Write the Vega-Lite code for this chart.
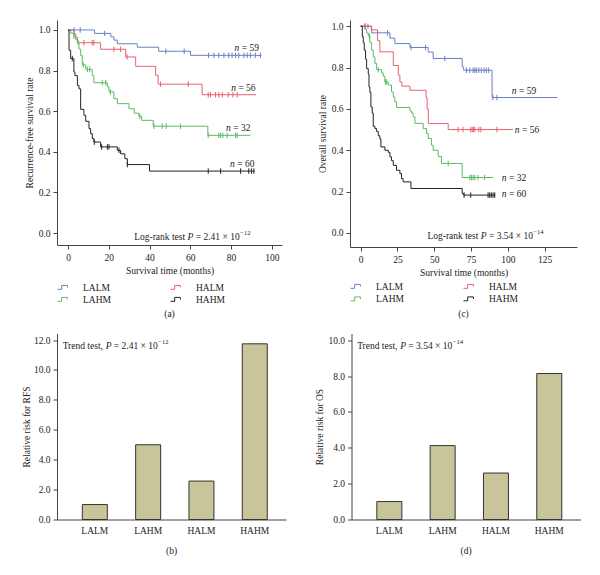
{
  "$schema": "https://vega.github.io/schema/vega-lite/v6.json",
  "padding": {"left": 21, "top": 20, "right": 5, "bottom": 5},
  "config": {
    "font": "Liberation Serif",
    "view": {"stroke": null},
    "axis": {"labelFontSize": 9.5, "titleFontSize": 9.5, "titleFontWeight": "normal", "domainColor": "#444", "tickColor": "#444", "labelColor": "#222", "titleColor": "#222", "grid": false, "tickSize": 4, "labelPadding": 3, "titlePadding": 4, "labelOverlap": false},
    "title": {"fontSize": 9.5, "fontWeight": "normal", "color": "#222", "orient": "bottom"},
    "text": {"fontSize": 9.5, "color": "#222"}
  },
  "datasets": {
    "rfs_curve": [
      {"group":"LALM","t":0,"s":1},{"group":"LALM","t":13,"s":0.983},{"group":"LALM","t":21,"s":0.966},{"group":"LALM","t":22.5,"s":0.95},{"group":"LALM","t":24.2,"s":0.932},{"group":"LALM","t":34,"s":0.915},{"group":"LALM","t":44.5,"s":0.895},{"group":"LALM","t":60.1,"s":0.875},{"group":"LALM","t":95,"s":0.875},
      {"group":"HALM","t":0,"s":1},{"group":"HALM","t":2.9,"s":0.982},{"group":"HALM","t":3.8,"s":0.964},{"group":"HALM","t":4.6,"s":0.937},{"group":"HALM","t":16,"s":0.905},{"group":"HALM","t":28.3,"s":0.867},{"group":"HALM","t":33.2,"s":0.821},{"group":"HALM","t":43,"s":0.777},{"group":"HALM","t":44.2,"s":0.733},{"group":"HALM","t":65.8,"s":0.681},{"group":"HALM","t":92.3,"s":0.681},
      {"group":"LAHM","t":0,"s":1},{"group":"LAHM","t":1.3,"s":0.984},{"group":"LAHM","t":2.9,"s":0.969},{"group":"LAHM","t":3.8,"s":0.953},{"group":"LAHM","t":4.6,"s":0.938},{"group":"LAHM","t":5.4,"s":0.906},{"group":"LAHM","t":6.2,"s":0.875},{"group":"LAHM","t":7.0,"s":0.828},{"group":"LAHM","t":8.7,"s":0.806},{"group":"LAHM","t":11.9,"s":0.775},{"group":"LAHM","t":12.7,"s":0.74},{"group":"LAHM","t":19.3,"s":0.72},{"group":"LAHM","t":20.1,"s":0.695},{"group":"LAHM","t":22.5,"s":0.662},{"group":"LAHM","t":24.2,"s":0.637},{"group":"LAHM","t":29.9,"s":0.612},{"group":"LAHM","t":32.5,"s":0.59},{"group":"LAHM","t":34.8,"s":0.575},{"group":"LAHM","t":36.1,"s":0.555},{"group":"LAHM","t":41.8,"s":0.526},{"group":"LAHM","t":68.6,"s":0.481},{"group":"LAHM","t":89.5,"s":0.481},
      {"group":"HAHM","t":0,"s":1},{"group":"HAHM","t":0.5,"s":0.9},{"group":"HAHM","t":1.3,"s":0.859},{"group":"HAHM","t":2.9,"s":0.793},{"group":"HAHM","t":3.4,"s":0.775},{"group":"HAHM","t":4.6,"s":0.727},{"group":"HAHM","t":5.4,"s":0.71},{"group":"HAHM","t":6.2,"s":0.609},{"group":"HAHM","t":7.8,"s":0.58},{"group":"HAHM","t":8.7,"s":0.55},{"group":"HAHM","t":10.3,"s":0.514},{"group":"HAHM","t":11.1,"s":0.489},{"group":"HAHM","t":11.9,"s":0.465},{"group":"HAHM","t":12.7,"s":0.448},{"group":"HAHM","t":16,"s":0.424},{"group":"HAHM","t":24.2,"s":0.407},{"group":"HAHM","t":25.8,"s":0.39},{"group":"HAHM","t":27.9,"s":0.366},{"group":"HAHM","t":29.1,"s":0.337},{"group":"HAHM","t":40,"s":0.305},{"group":"HAHM","t":91.7,"s":0.305}
    ],
    "rfs_censor": [
      {"group":"LALM","t":3,"s":1},{"group":"LALM","t":6,"s":1},{"group":"LALM","t":18,"s":0.983},{"group":"LALM","t":48,"s":0.895},{"group":"LALM","t":57,"s":0.895},{"group":"LALM","t":69,"s":0.875},{"group":"LALM","t":71.6,"s":0.875},{"group":"LALM","t":74,"s":0.875},{"group":"LALM","t":76.5,"s":0.875},{"group":"LALM","t":78.9,"s":0.875},{"group":"LALM","t":80.5,"s":0.875},{"group":"LALM","t":82.2,"s":0.875},{"group":"LALM","t":83.8,"s":0.875},{"group":"LALM","t":86.3,"s":0.875},{"group":"LALM","t":87.9,"s":0.875},{"group":"LALM","t":89.5,"s":0.875},{"group":"LALM","t":91.9,"s":0.875},{"group":"LALM","t":94.4,"s":0.875},
      {"group":"HALM","t":7.8,"s":0.937},{"group":"HALM","t":11.9,"s":0.937},{"group":"HALM","t":12.7,"s":0.937},{"group":"HALM","t":22.5,"s":0.905},{"group":"HALM","t":25.8,"s":0.905},{"group":"HALM","t":29,"s":0.867},{"group":"HALM","t":45.4,"s":0.733},{"group":"HALM","t":59,"s":0.733},{"group":"HALM","t":68.8,"s":0.681},{"group":"HALM","t":69.9,"s":0.681},{"group":"HALM","t":72.4,"s":0.681},{"group":"HALM","t":74,"s":0.681},{"group":"HALM","t":75.7,"s":0.681},{"group":"HALM","t":78.6,"s":0.681},{"group":"HALM","t":80.9,"s":0.681},{"group":"HALM","t":83,"s":0.681},
      {"group":"LAHM","t":2.9,"s":0.969},{"group":"LAHM","t":5.0,"s":0.938},{"group":"LAHM","t":7.5,"s":0.828},{"group":"LAHM","t":9.5,"s":0.806},{"group":"LAHM","t":10.7,"s":0.806},{"group":"LAHM","t":16.8,"s":0.74},{"group":"LAHM","t":18.5,"s":0.74},{"group":"LAHM","t":20.8,"s":0.695},{"group":"LAHM","t":35.2,"s":0.575},{"group":"LAHM","t":42.2,"s":0.526},{"group":"LAHM","t":46.2,"s":0.526},{"group":"LAHM","t":48.2,"s":0.526},{"group":"LAHM","t":55.2,"s":0.526},{"group":"LAHM","t":68.8,"s":0.481},{"group":"LAHM","t":74,"s":0.481},{"group":"LAHM","t":74.9,"s":0.481},{"group":"LAHM","t":76,"s":0.481},{"group":"LAHM","t":78.1,"s":0.481},{"group":"LAHM","t":82.2,"s":0.481},{"group":"LAHM","t":83,"s":0.481},
      {"group":"HAHM","t":2.1,"s":0.859},{"group":"HAHM","t":12.9,"s":0.448},{"group":"HAHM","t":16.5,"s":0.424},{"group":"HAHM","t":19.3,"s":0.424},{"group":"HAHM","t":20.1,"s":0.424},{"group":"HAHM","t":25,"s":0.407},{"group":"HAHM","t":29.1,"s":0.337},{"group":"HAHM","t":68.8,"s":0.305},{"group":"HAHM","t":74.9,"s":0.305},{"group":"HAHM","t":84.7,"s":0.305},{"group":"HAHM","t":88.7,"s":0.305},{"group":"HAHM","t":90,"s":0.305},{"group":"HAHM","t":91.2,"s":0.305}
    ],
    "os_curve": [
      {"group":"LALM","t":0,"s":1},{"group":"LALM","t":7.5,"s":0.968},{"group":"LALM","t":19.9,"s":0.942},{"group":"LALM","t":23.3,"s":0.916},{"group":"LALM","t":33.5,"s":0.897},{"group":"LALM","t":45.9,"s":0.875},{"group":"LALM","t":49.3,"s":0.844},{"group":"LALM","t":69,"s":0.803},{"group":"LALM","t":70,"s":0.787},{"group":"LALM","t":89.3,"s":0.655},{"group":"LALM","t":133.6,"s":0.655},
      {"group":"HALM","t":0,"s":1},{"group":"HALM","t":7.3,"s":0.982},{"group":"HALM","t":11.5,"s":0.93},{"group":"HALM","t":13.1,"s":0.876},{"group":"HALM","t":22.2,"s":0.81},{"group":"HALM","t":25.6,"s":0.763},{"group":"HALM","t":26.7,"s":0.73},{"group":"HALM","t":28,"s":0.71},{"group":"HALM","t":33.5,"s":0.69},{"group":"HALM","t":44.5,"s":0.655},{"group":"HALM","t":45.2,"s":0.6},{"group":"HALM","t":46,"s":0.529},{"group":"HALM","t":59.5,"s":0.5},{"group":"HALM","t":103.5,"s":0.5},
      {"group":"LAHM","t":0,"s":1},{"group":"LAHM","t":3,"s":0.984},{"group":"LAHM","t":4.1,"s":0.968},{"group":"LAHM","t":5.2,"s":0.952},{"group":"LAHM","t":6.3,"s":0.92},{"group":"LAHM","t":7.5,"s":0.884},{"group":"LAHM","t":8.6,"s":0.852},{"group":"LAHM","t":9.7,"s":0.82},{"group":"LAHM","t":10.9,"s":0.79},{"group":"LAHM","t":14.3,"s":0.774},{"group":"LAHM","t":15.4,"s":0.758},{"group":"LAHM","t":16.5,"s":0.73},{"group":"LAHM","t":18.8,"s":0.715},{"group":"LAHM","t":21,"s":0.682},{"group":"LAHM","t":22.2,"s":0.658},{"group":"LAHM","t":23.3,"s":0.634},{"group":"LAHM","t":24.4,"s":0.607},{"group":"LAHM","t":33.5,"s":0.59},{"group":"LAHM","t":34.6,"s":0.58},{"group":"LAHM","t":35.7,"s":0.561},{"group":"LAHM","t":36.9,"s":0.53},{"group":"LAHM","t":42.5,"s":0.505},{"group":"LAHM","t":44.8,"s":0.481},{"group":"LAHM","t":45.9,"s":0.457},{"group":"LAHM","t":48.2,"s":0.424},{"group":"LAHM","t":49.3,"s":0.4},{"group":"LAHM","t":52.7,"s":0.37},{"group":"LAHM","t":54.9,"s":0.336},{"group":"LAHM","t":69,"s":0.268},{"group":"LAHM","t":90,"s":0.268},
      {"group":"HAHM","t":0,"s":1},{"group":"HAHM","t":1.15,"s":0.95},{"group":"HAHM","t":1.8,"s":0.92},{"group":"HAHM","t":2.5,"s":0.884},{"group":"HAHM","t":3.4,"s":0.84},{"group":"HAHM","t":4.1,"s":0.795},{"group":"HAHM","t":5.2,"s":0.77},{"group":"HAHM","t":5.7,"s":0.706},{"group":"HAHM","t":6.3,"s":0.68},{"group":"HAHM","t":7,"s":0.61},{"group":"HAHM","t":7.9,"s":0.58},{"group":"HAHM","t":8.6,"s":0.516},{"group":"HAHM","t":9.7,"s":0.505},{"group":"HAHM","t":10.9,"s":0.49},{"group":"HAHM","t":12,"s":0.47},{"group":"HAHM","t":13.1,"s":0.455},{"group":"HAHM","t":13.8,"s":0.416},{"group":"HAHM","t":16.5,"s":0.4},{"group":"HAHM","t":18.8,"s":0.39},{"group":"HAHM","t":19.9,"s":0.368},{"group":"HAHM","t":21,"s":0.35},{"group":"HAHM","t":22.2,"s":0.327},{"group":"HAHM","t":24.4,"s":0.303},{"group":"HAHM","t":26.7,"s":0.287},{"group":"HAHM","t":27.8,"s":0.263},{"group":"HAHM","t":28.9,"s":0.247},{"group":"HAHM","t":34.2,"s":0.215},{"group":"HAHM","t":69,"s":0.19},{"group":"HAHM","t":70,"s":0.183},{"group":"HAHM","t":91.5,"s":0.183}
    ],
    "os_censor": [
      {"group":"LALM","t":3,"s":1},{"group":"LALM","t":18.3,"s":0.968},{"group":"LALM","t":34.2,"s":0.897},{"group":"LALM","t":44.1,"s":0.897},{"group":"LALM","t":57.2,"s":0.844},{"group":"LALM","t":71.9,"s":0.787},{"group":"LALM","t":74.2,"s":0.787},{"group":"LALM","t":76.4,"s":0.787},{"group":"LALM","t":77.6,"s":0.787},{"group":"LALM","t":78.6,"s":0.787},{"group":"LALM","t":80.3,"s":0.787},{"group":"LALM","t":82,"s":0.787},{"group":"LALM","t":83.9,"s":0.787},{"group":"LALM","t":85.4,"s":0.787},{"group":"LALM","t":87,"s":0.787},{"group":"LALM","t":89.9,"s":0.655},{"group":"LALM","t":92.6,"s":0.655},
      {"group":"HALM","t":3,"s":1},{"group":"HALM","t":5,"s":1},{"group":"HALM","t":66.2,"s":0.5},{"group":"HALM","t":69.6,"s":0.5},{"group":"HALM","t":74.8,"s":0.5},{"group":"HALM","t":75.8,"s":0.5},{"group":"HALM","t":76.6,"s":0.5},{"group":"HALM","t":77.6,"s":0.5},{"group":"HALM","t":80.3,"s":0.5},{"group":"HALM","t":81.7,"s":0.5},{"group":"HALM","t":92.6,"s":0.5},
      {"group":"LAHM","t":6,"s":0.952},{"group":"LAHM","t":12,"s":0.79},{"group":"LAHM","t":16.8,"s":0.73},{"group":"LAHM","t":17.7,"s":0.73},{"group":"LAHM","t":59.5,"s":0.336},{"group":"LAHM","t":74.2,"s":0.268},{"group":"LAHM","t":75.3,"s":0.268},{"group":"LAHM","t":76.4,"s":0.268},{"group":"LAHM","t":77.6,"s":0.268},{"group":"LAHM","t":79.7,"s":0.268},{"group":"LAHM","t":84.3,"s":0.268},
      {"group":"HAHM","t":70.3,"s":0.183},{"group":"HAHM","t":74.8,"s":0.183},{"group":"HAHM","t":86.6,"s":0.183},{"group":"HAHM","t":87.7,"s":0.183},{"group":"HAHM","t":88.8,"s":0.183},{"group":"HAHM","t":90,"s":0.183},{"group":"HAHM","t":91.1,"s":0.183}
    ],
    "rfs_n": [
      {"lab":"= 59","t":85.3,"s":0.913},{"lab":"= 56","t":83.6,"s":0.713},{"lab":"= 32","t":81.1,"s":0.519},{"lab":"= 60","t":83.1,"s":0.34}
    ],
    "os_n": [
      {"lab":"= 59","t":107.6,"s":0.687},{"lab":"= 56","t":109.6,"s":0.497},{"lab":"= 32","t":100.8,"s":0.268},{"lab":"= 60","t":100.8,"s":0.187}
    ],
    "rfs_test": [{"t": 32.5, "s": -0.02}],
    "os_test": [{"t": 45.4, "s": -0.014}],
    "rr": [
      {"group":"LALM","rfs":1.0,"os":1.0},{"group":"LAHM","rfs":5.0,"os":4.12},{"group":"HALM","rfs":2.57,"os":2.59},{"group":"HAHM","rfs":11.75,"os":8.14}
    ],
    "rfs_trend": [{"group":"LALM","rfs":11.6}],
    "os_trend": [{"group":"LALM","os":9.66}]
  },
  "spacing": 14.5,
  "vconcat": [
    {
      "spacing": 35,
      "resolve": {"scale": {"color": "independent"}, "legend": {"color": "independent"}},
      "hconcat": [
        {
          "width": 225, "height": 225,
          "title": {"text": "(a)", "offset": 5},
          "encoding": {
            "x": {"field": "t", "type": "quantitative", "scale": {"domain": [-5.4, 105], "nice": false, "zero": false}, "axis": {"values": [0,20,40,60,80,100], "format": "d", "title": "Survival time (months)"}},
            "y": {"field": "s", "type": "quantitative", "scale": {"domain": [-0.059, 1.049], "nice": false, "zero": false}, "axis": {"values": [0,0.2,0.4,0.6,0.8,1], "format": ".1f", "title": "Recurrence-free survival rate"}}
          },
          "layer": [
            {
              "data": {"name": "rfs_curve"},
              "mark": {"type": "line", "interpolate": "step-after", "strokeWidth": 1},
              "encoding": {
                "color": {"field": "group", "type": "nominal", "scale": {"domain": ["LALM","LAHM","HALM","HAHM"], "range": ["#6a7fc8","#5dbb63","#e8606f","#222222"]},
                  "legend": {"title": null, "orient": "none", "legendX": 0, "legendY": 261, "columns": 2, "columnPadding": 57, "rowPadding": 1, "padding": 0, "symbolType": "M-1,0.3H-0.3V-0.35H0.65V0", "symbolSize": 144, "symbolStrokeWidth": 1, "symbolFillColor": "transparent", "labelFontSize": 9.5, "labelOffset": 13, "labelColor": "#222"}}
              }
            },
            {
              "data": {"name": "rfs_censor"},
              "mark": {"type": "point", "shape": "M0,-1L0,1", "size": 30, "filled": false, "strokeWidth": 1, "opacity": 1},
              "encoding": {
                "color": {"field": "group", "type": "nominal", "scale": {"domain": ["LALM","LAHM","HALM","HAHM"], "range": ["#6a7fc8","#5dbb63","#e8606f","#222222"]},
                  "legend": {"title": null, "orient": "none", "legendX": 0, "legendY": 261, "columns": 2, "columnPadding": 57, "rowPadding": 1, "padding": 0, "symbolType": "M-1,0.3H-0.3V-0.35H0.65V0", "symbolSize": 144, "symbolStrokeWidth": 1, "symbolFillColor": "transparent", "labelFontSize": 9.5, "labelOffset": 13, "labelColor": "#222"}}
              }
            },
            {
              "data": {"name": "rfs_n"},
              "mark": {"type": "text", "text": "n", "fontStyle": "italic", "align": "right", "dx": -2.5, "baseline": "middle"}
            },
            {
              "data": {"name": "rfs_n"},
              "mark": {"type": "text", "align": "left", "baseline": "middle"},
              "encoding": {"text": {"field": "lab"}}
            },
            {
              "data": {"name": "rfs_test"},
              "mark": {"type": "text", "text": "Log-rank test", "align": "left", "baseline": "middle"}
            },
            {
              "data": {"name": "rfs_test"},
              "mark": {"type": "text", "text": "P", "fontStyle": "italic", "align": "left", "baseline": "middle", "dx": 53.3}
            },
            {
              "data": {"name": "rfs_test"},
              "mark": {"type": "text", "text": "= 2.41 × 10", "align": "left", "baseline": "middle", "dx": 61.5}
            },
            {
              "data": {"name": "rfs_test"},
              "mark": {"type": "text", "text": "−12", "fontSize": 6.5, "align": "left", "baseline": "middle", "dx": 106, "dy": -4}
            }
          ]
        },
        {
          "width": 227, "height": 227,
          "title": {"text": "(c)", "offset": 5},
          "encoding": {
            "x": {"field": "t", "type": "quantitative", "scale": {"domain": [-7.2, 147], "nice": false, "zero": false}, "axis": {"values": [0,25,50,75,100,125], "format": "d", "title": "Survival time (months)"}},
            "y": {"field": "s", "type": "quantitative", "scale": {"domain": [-0.068, 1.03], "nice": false, "zero": false}, "axis": {"values": [0,0.2,0.4,0.6,0.8,1], "format": ".1f", "title": "Overall survival rate"}}
          },
          "layer": [
            {
              "data": {"name": "os_curve"},
              "mark": {"type": "line", "interpolate": "step-after", "strokeWidth": 1},
              "encoding": {
                "color": {"field": "group", "type": "nominal", "scale": {"domain": ["LALM","LAHM","HALM","HAHM"], "range": ["#6a7fc8","#5dbb63","#e8606f","#222222"]},
                  "legend": {"title": null, "orient": "none", "legendX": 0, "legendY": 260, "columns": 2, "columnPadding": 57, "rowPadding": 1.5, "padding": 0, "symbolType": "M-1,0.3H-0.3V-0.35H0.65V0", "symbolSize": 144, "symbolStrokeWidth": 1, "symbolFillColor": "transparent", "labelFontSize": 9.5, "labelOffset": 13, "labelColor": "#222"}}
              }
            },
            {
              "data": {"name": "os_censor"},
              "mark": {"type": "point", "shape": "M0,-1L0,1", "size": 30, "filled": false, "strokeWidth": 1, "opacity": 1},
              "encoding": {
                "color": {"field": "group", "type": "nominal", "scale": {"domain": ["LALM","LAHM","HALM","HAHM"], "range": ["#6a7fc8","#5dbb63","#e8606f","#222222"]},
                  "legend": {"title": null, "orient": "none", "legendX": 0, "legendY": 260, "columns": 2, "columnPadding": 57, "rowPadding": 1.5, "padding": 0, "symbolType": "M-1,0.3H-0.3V-0.35H0.65V0", "symbolSize": 144, "symbolStrokeWidth": 1, "symbolFillColor": "transparent", "labelFontSize": 9.5, "labelOffset": 13, "labelColor": "#222"}}
              }
            },
            {
              "data": {"name": "os_n"},
              "mark": {"type": "text", "text": "n", "fontStyle": "italic", "align": "right", "dx": -2.5, "baseline": "middle"}
            },
            {
              "data": {"name": "os_n"},
              "mark": {"type": "text", "align": "left", "baseline": "middle"},
              "encoding": {"text": {"field": "lab"}}
            },
            {
              "data": {"name": "os_test"},
              "mark": {"type": "text", "text": "Log-rank test", "align": "left", "baseline": "middle"}
            },
            {
              "data": {"name": "os_test"},
              "mark": {"type": "text", "text": "P", "fontStyle": "italic", "align": "left", "baseline": "middle", "dx": 53.3}
            },
            {
              "data": {"name": "os_test"},
              "mark": {"type": "text", "text": "= 3.54 × 10", "align": "left", "baseline": "middle", "dx": 61.5}
            },
            {
              "data": {"name": "os_test"},
              "mark": {"type": "text", "text": "−14", "fontSize": 6.5, "align": "left", "baseline": "middle", "dx": 106, "dy": -4}
            }
          ]
        }
      ]
    },
    {
      "spacing": 28.5,
      "hconcat": [
        {
          "width": 229, "height": 186,
          "title": {"text": "(b)", "offset": 11},
          "encoding": {
            "x": {"field": "group", "type": "nominal", "sort": null, "scale": {"paddingInner": 0.531, "paddingOuter": 0.413, "align": 0.575}, "axis": {"title": null, "labelAngle": 0, "ticks": false, "labelPadding": 6}},
            "y": {"field": "rfs", "type": "quantitative", "scale": {"domain": [0, 12.44], "nice": false}, "axis": {"values": [0,2,4,6,8,10,12], "format": ".1f", "title": "Relative risk for RFS", "titlePadding": 2}}
          },
          "layer": [
            {
              "data": {"name": "rr"},
              "mark": {"type": "bar", "fill": "#c9c59a", "stroke": "#333333", "strokeWidth": 1}
            },
            {
              "data": {"name": "rfs_trend"},
              "mark": {"type": "text", "text": "Trend test,", "align": "left", "baseline": "middle", "dx": -32.2}
            },
            {
              "data": {"name": "rfs_trend"},
              "mark": {"type": "text", "text": "P", "fontStyle": "italic", "align": "left", "baseline": "middle", "dx": 10.8}
            },
            {
              "data": {"name": "rfs_trend"},
              "mark": {"type": "text", "text": "= 2.41 × 10", "align": "left", "baseline": "middle", "dx": 19}
            },
            {
              "data": {"name": "rfs_trend"},
              "mark": {"type": "text", "text": "−12", "fontSize": 6.5, "align": "left", "baseline": "middle", "dx": 63.5, "dy": -4}
            }
          ]
        },
        {
          "width": 229, "height": 186,
          "title": {"text": "(d)", "offset": 11},
          "encoding": {
            "x": {"field": "group", "type": "nominal", "sort": null, "scale": {"paddingInner": 0.531, "paddingOuter": 0.413, "align": 0.575}, "axis": {"title": null, "labelAngle": 0, "ticks": false, "labelPadding": 6}},
            "y": {"field": "os", "type": "quantitative", "scale": {"domain": [0, 10.37], "nice": false}, "axis": {"values": [0,2,4,6,8,10], "format": ".1f", "title": "Relative risk for OS", "titlePadding": 3}}
          },
          "layer": [
            {
              "data": {"name": "rr"},
              "mark": {"type": "bar", "fill": "#c9c59a", "stroke": "#333333", "strokeWidth": 1}
            },
            {
              "data": {"name": "os_trend"},
              "mark": {"type": "text", "text": "Trend test,", "align": "left", "baseline": "middle", "dx": -32.2}
            },
            {
              "data": {"name": "os_trend"},
              "mark": {"type": "text", "text": "P", "fontStyle": "italic", "align": "left", "baseline": "middle", "dx": 10.8}
            },
            {
              "data": {"name": "os_trend"},
              "mark": {"type": "text", "text": "= 3.54 × 10", "align": "left", "baseline": "middle", "dx": 19}
            },
            {
              "data": {"name": "os_trend"},
              "mark": {"type": "text", "text": "−14", "fontSize": 6.5, "align": "left", "baseline": "middle", "dx": 63.5, "dy": -4}
            }
          ]
        }
      ]
    }
  ]
}
